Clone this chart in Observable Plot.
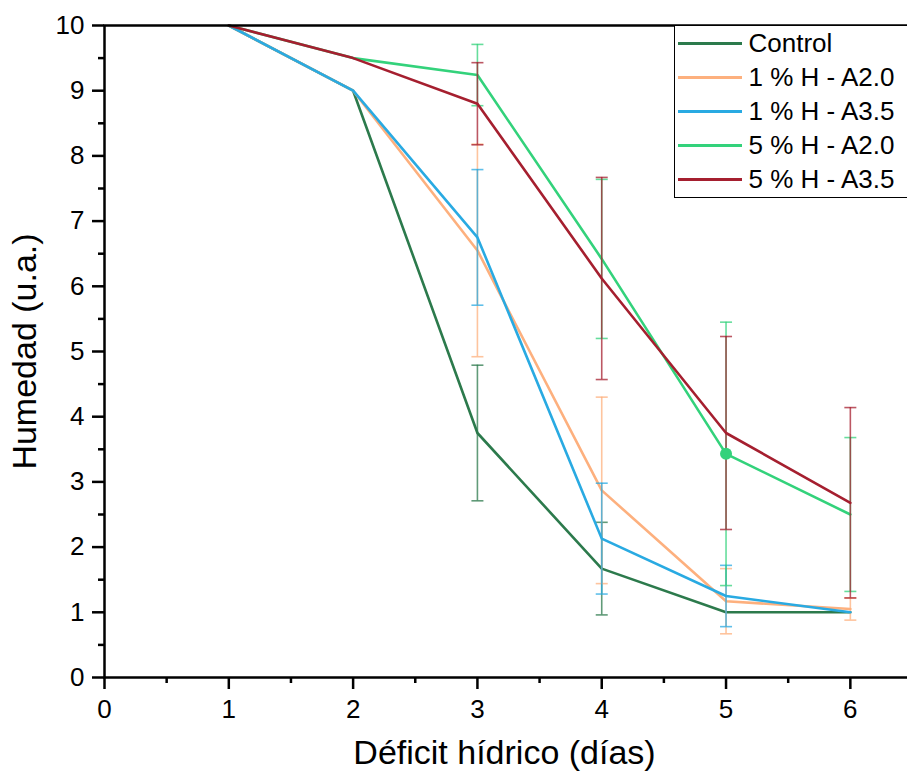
<!DOCTYPE html>
<html><head><meta charset="utf-8">
<script src="https://cdn.jsdelivr.net/npm/d3@7"></script>
<script src="https://cdn.jsdelivr.net/npm/@observablehq/plot@0.6"></script>
<style>
html,body{margin:0;padding:0;background:#fff;overflow:hidden;}
#wrap{position:relative;width:907px;height:778px;overflow:hidden;}
#legend{position:absolute;left:674px;top:25px;width:260px;height:171px;border:1.5px solid #000;background:#fff;font-family:"Liberation Sans",Arial,sans-serif;font-size:26px;color:#000;}
.row{height:34px;display:flex;align-items:center;white-space:nowrap;}
.sw{width:64px;height:3px;margin-left:2.5px;margin-right:7px;flex:none;}
</style></head><body><div id="wrap"><div id="chart"></div><div id="legend"></div></div>
<script>
const days = [1, 2, 3, 4, 5, 6];
const seriesNames = ["Control", "1 % H - A2.0", "1 % H - A3.5", "5 % H - A2.0", "5 % H - A3.5"];
const seriesColors = ["#2c7a4c", "#fdb07e", "#29aae2", "#33d27b", "#a51f2f"];

const controlValues = [10, 9.0, 3.75, 1.67, 1.0, 1.0];
const controlErrors = [0, 0, 1.04, 0.71, 0, 0];
const h1a20Values = [10, 9.0, 6.55, 2.87, 1.17, 1.05];
const h1a20Errors = [0, 0, 1.63, 1.43, 0.5, 0.17];
const h1a35Values = [10, 9.0, 6.75, 2.13, 1.25, 1.0];
const h1a35Errors = [0, 0, 1.04, 0.85, 0.47, 0];
const h5a20Values = [10, 9.5, 9.24, 6.42, 3.43, 2.5];
const h5a20Errors = [0, 0, 0.47, 1.22, 2.02, 1.18];
const h5a35Values = [10, 9.5, 8.8, 6.12, 3.75, 2.68];
const h5a35Errors = [0, 0, 0.63, 1.55, 1.48, 1.46];

const xTicks = [0, 1, 2, 3, 4, 5, 6];
const xMinorTicks = [0.5, 1.5, 2.5, 3.5, 4.5, 5.5];
const yTicks = [0, 1, 2, 3, 4, 5, 6, 7, 8, 9, 10];
const yMinorTicks = [0.5, 1.5, 2.5, 3.5, 4.5, 5.5, 6.5, 7.5, 8.5, 9.5];
const xLabel = "Déficit hídrico (días)";
const yLabel = "Humedad (u.a.)";
const markerSeries = "5 % H - A2.0";
const markerDays = [5];

const allValues = [controlValues, h1a20Values, h1a35Values, h5a20Values, h5a35Values];
const allErrors = [controlErrors, h1a20Errors, h1a35Errors, h5a20Errors, h5a35Errors];

const rows = [];
seriesNames.forEach((s, i) => days.forEach((d, j) => rows.push({series: s, day: d, value: allValues[i][j], err: allErrors[i][j]})));

const capSymbol = {draw(ctx, size) { const r = Math.sqrt(size / Math.PI); ctx.moveTo(-r, 0); ctx.lineTo(r, 0); }};
const font = "'Liberation Sans', Arial, sans-serif";

const seriesMarks = seriesNames.flatMap(s => {
  const data = rows.filter(d => d.series === s);
  const bars = data.filter(d => d.err > 0);
  return [
    Plot.line(data, {x: "day", y: "value", stroke: "series", strokeWidth: 2.6}),
    Plot.ruleX(bars, {x: "day", y1: d => d.value - d.err, y2: d => d.value + d.err, stroke: "series", strokeWidth: 1.6, strokeOpacity: 0.75}),
    Plot.dot(bars, {x: "day", y: d => d.value - d.err, symbol: capSymbol, r: 6, stroke: "series", strokeWidth: 1.6, strokeOpacity: 0.75}),
    Plot.dot(bars, {x: "day", y: d => d.value + d.err, symbol: capSymbol, r: 6, stroke: "series", strokeWidth: 1.6, strokeOpacity: 0.75})
  ];
});

const chart = Plot.plot({
  width: 907,
  height: 778,
  marginLeft: 104,
  marginRight: -5,
  marginTop: 25,
  marginBottom: 101,
  style: {fontFamily: font, background: "white", color: "black", overflow: "visible"},
  x: {domain: [0, 6.5]},
  y: {domain: [0, 10]},
  color: {domain: seriesNames, range: seriesColors},
  marks: [
    ...seriesMarks,
    Plot.dot(rows.filter(d => d.series === markerSeries && markerDays.includes(d.day)), {x: "day", y: "value", fill: "series", r: 6}),
    Plot.frame({stroke: "black", strokeWidth: 2.5}),
    Plot.axisX({ticks: xMinorTicks, tickSize: 6, tickFormat: () => "", strokeWidth: 2.5, label: null}),
    Plot.axisX({ticks: xTicks, tickSize: 12, tickPadding: 10, tickFormat: d => String(d), fontSize: 26, strokeWidth: 2.5, label: null}),
    Plot.axisY({ticks: yMinorTicks, tickSize: 6, tickFormat: () => "", strokeWidth: 2.5, label: null}),
    Plot.axisY({ticks: yTicks, tickSize: 12, tickPadding: 8, tickFormat: d => String(d), fontSize: 26, strokeWidth: 2.5, label: null}),
    Plot.text([xLabel], {text: d => d, frameAnchor: "bottom", textAnchor: "middle", dx: -4, dy: 86, fontSize: 34, fill: "black"}),
    Plot.text([yLabel], {text: d => d, frameAnchor: "left", textAnchor: "middle", dx: -79, rotate: -90, fontSize: 34, fill: "black"})
  ]
});
document.getElementById("chart").appendChild(chart);

const legend = document.getElementById("legend");
seriesNames.forEach((s, i) => {
  const row = document.createElement("div");
  row.className = "row";
  const sw = document.createElement("div");
  sw.className = "sw";
  sw.style.background = seriesColors[i];
  const t = document.createElement("span");
  t.textContent = s;
  row.appendChild(sw);
  row.appendChild(t);
  legend.appendChild(row);
});
</script></body></html>
